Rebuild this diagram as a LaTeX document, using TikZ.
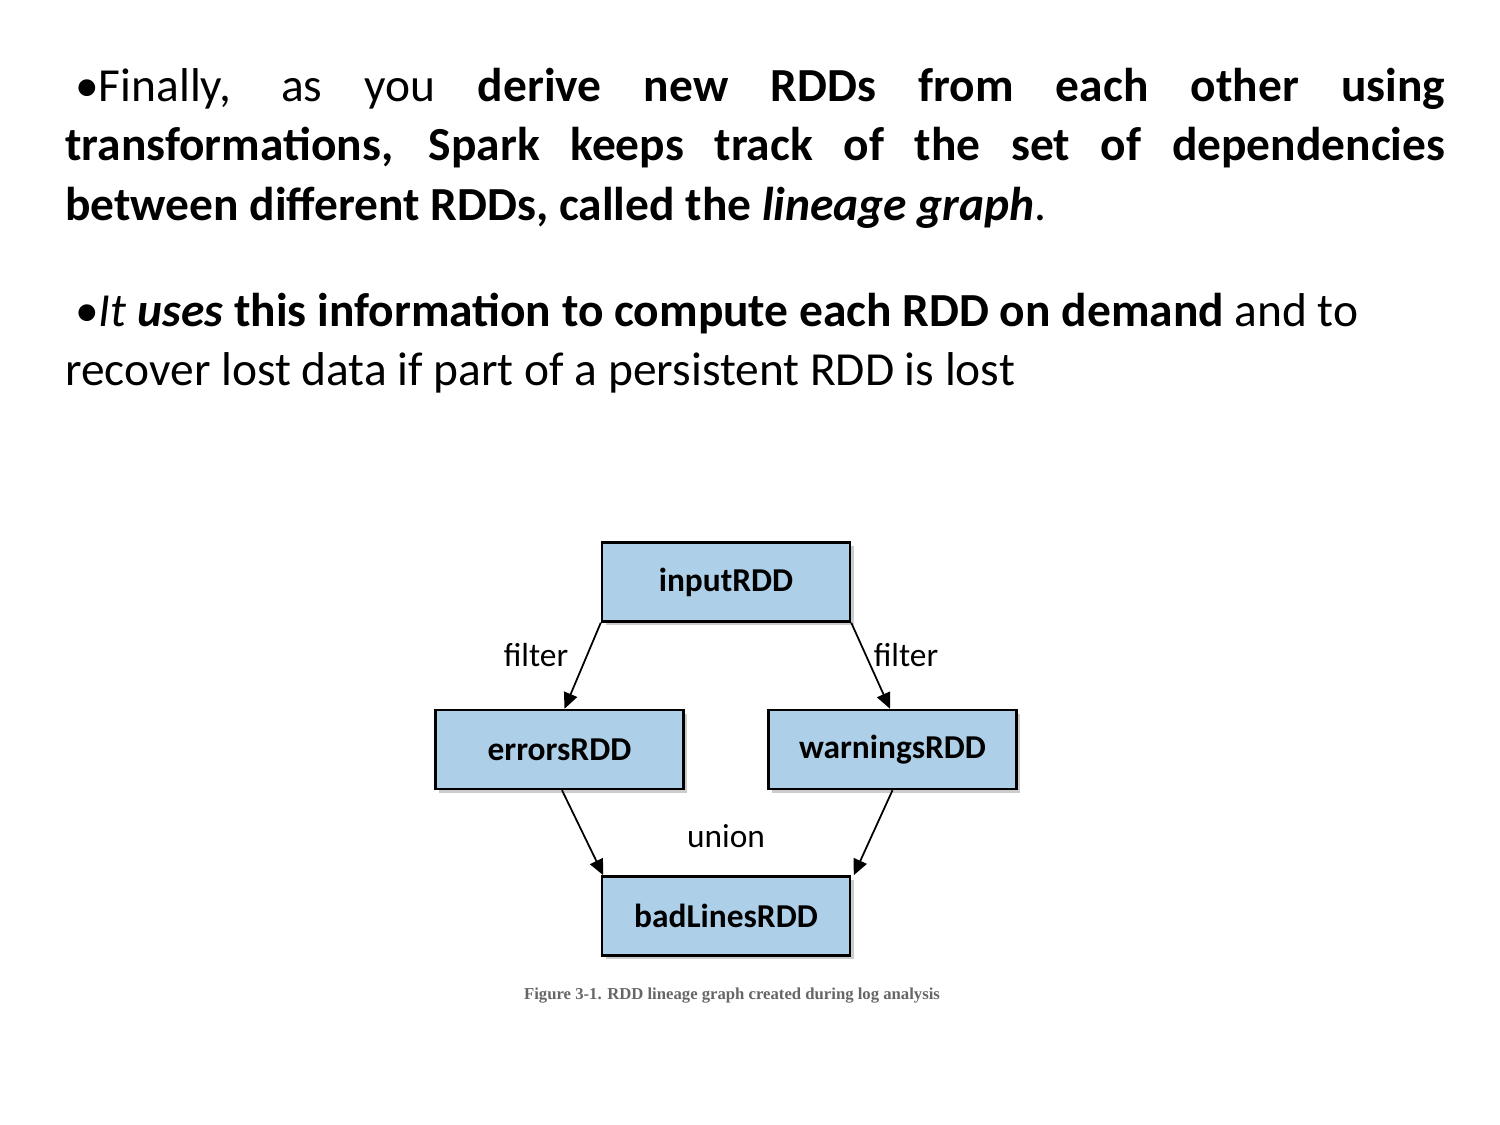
\documentclass[tikz,border=0pt]{standalone}
\usepackage{fontspec}
\setmainfont{Carlito}
\newfontfamily\capfont{Liberation Serif}
\usetikzlibrary{positioning, calc, arrows.meta, shadows}
\definecolor{rddblue}{RGB}{174,207,232}

\begin{document}
\begin{tikzpicture}[
    rdd/.style={draw, line width=1.4pt, fill=rddblue, minimum width=4.96cm,
      minimum height=1.58cm, drop shadow={shadow xshift=2pt, shadow yshift=-2pt, opacity=.4},
      font=\fontsize{19}{22}\selectfont\bfseries},
    lbl/.style={font=\fontsize{19}{22}\selectfont},
    para/.style={anchor=north west, inner sep=0pt, text width=27.6cm, align=justify,
      font=\fontsize{27}{34}\selectfont}
  ]
    \useasboundingbox (0,0) rectangle (30,22.5);
    % text
    \node[para] (p1) at (1.3,21.15) {\hspace*{0.2cm}•Finally, as you \textbf{derive new RDDs from each other using}\linebreak
      \textbf{transformations, Spark keeps track of the set of dependencies}\linebreak
      \textbf{between different RDDs, called the \textit{lineage graph}}.};
    \node[para] (p2) at (1.3,16.65) {\hspace*{0.2cm}•\textit{It \textbf{uses}} \textbf{this information to compute each RDD on demand} and to\\
      recover lost data if part of a persistent RDD is lost};
    % boxes
    \node[rdd] (in) at (14.52,10.86) {inputRDD};
    \node[rdd] (err) at (11.19,7.51) {errorsRDD};
    \node[rdd] (warn) at (17.85,7.51) {warningsRDD};
    \node[rdd] (bad) at (14.52,4.18) {badLinesRDD};
    % arrows
    \draw[-{Triangle[length=9pt,width=8pt]}, line width=1pt] (in.south west) -- ($(err.north)+(0.1,0)$);
    \draw[-{Triangle[length=9pt,width=8pt]}, line width=1pt] (in.south east) -- ($(warn.north)-(0.05,0)$);
    \draw[-{Triangle[length=9pt,width=8pt]}, line width=1pt] ($(err.south)+(0.05,0)$) -- ($(bad.north west)+(0.05,0)$);
    \draw[-{Triangle[length=9pt,width=8pt]}, line width=1pt] (warn.south) -- ($(bad.north east)+(0.05,0)$);
    % labels
    \node[lbl] (f1) at (10.72,9.4) {filter};
    \node[lbl] (f2) at (18.12,9.4) {filter};
    \node[lbl] (un) at (14.52,5.78) {union};
    \node[font=\capfont\fontsize{9.5}{11}\selectfont\bfseries, text=black!60] (cap) at (14.64,2.58)
      {Figure 3-1. RDD lineage graph created during log analysis};
  \end{tikzpicture}
\end{document}
